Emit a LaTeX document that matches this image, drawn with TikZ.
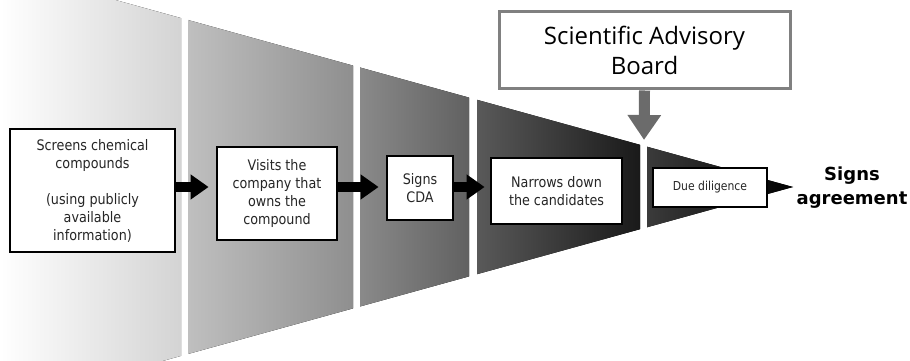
\documentclass[tikz,border=0pt]{standalone}
\usepackage{fontspec}
\setmainfont{DejaVu Sans}
\newfontfamily\boxfont[FakeStretch=0.88]{DejaVu Sans}
\newfontfamily\sabfont{Open Sans}
\usetikzlibrary{arrows.meta}

\begin{document}
\begin{tikzpicture}[>={Triangle[length=18bp,width=24bp]},line join=miter,
    stepbox/.style={draw=black,line width=2.8bp,fill=white,rectangle,inner sep=0pt,align=center,text=black!85,font=\boxfont\fontsize{14.5bp}{18bp}\selectfont},
    flow/.style={->,line width=10bp,black},
  ]
    %%
    \useasboundingbox (0bp,0bp) rectangle (910bp,361bp);
    \begin{scope}
    \clip (0bp,0bp) rectangle (910bp,361bp);
    \fill [left color=white,right color=black!17] (0bp,392.9bp) -- (181bp,342.9bp) -- (181bp,5.1bp) -- (0bp,-44.9bp) -- cycle;
    \fill [left color=black!25,right color=black!44] (188bp,341.0bp) -- (353bp,295.4bp) -- (353bp,52.6bp) -- (188bp,7.0bp) -- cycle;
    \fill [left color=black!46,right color=black!62] (360bp,293.5bp) -- (469bp,263.4bp) -- (469bp,84.6bp) -- (360bp,54.5bp) -- cycle;
    \fill [left color=black!65,right color=black!90] (477bp,261.2bp) -- (640bp,216.2bp) -- (640bp,131.8bp) -- (477bp,86.8bp) -- cycle;
    \fill [left color=black!77,right color=black] (647bp,214.3bp) -- (793bp,174bp) -- (647bp,133.7bp) -- cycle;
    \end{scope}
    %%
    \node (screen) at (92.5bp,170.5bp) [stepbox,minimum width=165bp,minimum height=123bp] {Screens chemical\\compounds\\[18bp](using publicly\\available\\information)};
    \node (visit) at (277bp,167.5bp) [stepbox,minimum width=120bp,minimum height=93bp] {Visits the\\company that\\owns the\\compound};
    \node (cda) at (420bp,173bp) [stepbox,minimum width=66bp,minimum height=64bp] {Signs\\CDA};
    \node (narrow) at (556.5bp,170bp) [stepbox,minimum width=131bp,minimum height=66bp] {Narrows down\\the candidates};
    \node (due) at (710bp,173.5bp) [stepbox,minimum width=114bp,minimum height=39bp,font=\boxfont\fontsize{12.3bp}{15bp}\selectfont] {Due diligence};
    \node (sab) at (644.5bp,310.5bp) [draw=black!50,line width=3bp,fill=white,rectangle,minimum width=291bp,minimum height=77bp,inner sep=0pt,align=center,font=\sabfont\fontsize{24bp}{30bp}\selectfont] {Scientific Advisory\\Board};
    \node (agree) at (852bp,173bp) [align=center,font=\bfseries\fontsize{18bp}{24bp}\selectfont] {Signs\\agreement};
    \coordinate (tip) at (793bp,174bp);
    \coordinate (sabtip) at (644bp,221bp);
    %
    \draw [flow,shorten >=7bp] (screen.east |- tip) -- (visit.west |- tip);
    \draw [flow,shorten >=7bp] (visit.east |- tip) -- (cda.west |- tip);
    \draw [flow,shorten >=5bp] (cda.east |- tip) -- (narrow.west |- tip);
    \draw [-{Triangle[length=25bp,width=32bp]},line width=11bp,black!58] (sab.south) -- (sabtip);
    %
\end{tikzpicture}
\end{document}
